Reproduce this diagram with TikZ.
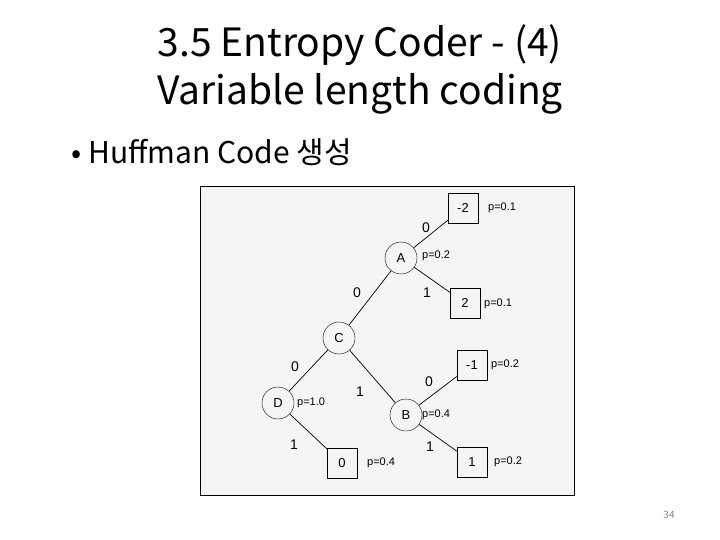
\documentclass[tikz,border=0pt]{standalone}
\usepackage{fontspec}
\setmainfont{Noto Sans CJK KR}
\setsansfont{Liberation Sans}
\begin{document}
\begin{tikzpicture}[x=1pt,y=-1pt,
  circ/.style={draw,circle,minimum size=32pt,inner sep=0pt,font=\sffamily\fontsize{13}{13}\selectfont},
  sq/.style={draw,rectangle,minimum size=30pt,inner sep=0pt,font=\sffamily\fontsize{13}{13}\selectfont},
  lab/.style={font=\sffamily\fontsize{14}{14}\selectfont},
  pl/.style={font=\sffamily\fontsize{11}{11}\selectfont,anchor=west,inner sep=1pt},
  edge/.style={draw,line width=0.7pt}]
\useasboundingbox (0,0) rectangle (720,540);
\node (t1) at (360,45) {\fontsize{39}{39}\selectfont 3.5 Entropy Coder - (4)};
\node (t2) at (360,94) {\fontsize{39}{39}\selectfont Variable length coding};
\node[anchor=west] (bul) at (68,152) {\fontsize{30}{30}\selectfont • Huffman Code 생성};
\node[font=\fontsize{10}{10}\selectfont,text=gray] (pg) at (669,515) {34};
\node[draw,line width=1pt,fill=gray!8,minimum width=374pt,minimum height=308pt,inner sep=0pt] (frame) at (387,341) {};
\node[circ] (D) at (278,403) {D};
\node[circ] (C) at (339,338) {C};
\node[circ] (A) at (401,258) {A};
\node[circ] (B) at (406,415) {B};
\node[sq] (m2) at (463,208) {-2};
\node[sq] (p2) at (465,303) {2};
\node[sq] (m1) at (472,365) {-1};
\node[sq] (p1) at (472,462) {1};
\node[sq] (z) at (342,463) {0};
\draw[edge] (D) -- (C);
\draw[edge] (D) -- (z);
\draw[edge] (C) -- (A);
\draw[edge] (C) -- (B);
\draw[edge] (A) -- (m2);
\draw[edge] (A) -- (p2);
\draw[edge] (B) -- (m1);
\draw[edge] (B) -- (p1);
\node[lab] (e1) at (426,228) {0};
\node[lab] (e2) at (427,293) {1};
\node[lab] (e3) at (357,293) {0};
\node[lab] (e4) at (295,367) {0};
\node[lab] (e5) at (360,392) {1};
\node[lab] (e6) at (294,445) {1};
\node[lab] (e7) at (429,382) {0};
\node[lab] (e8) at (430,447) {1};
\node[pl] (q1) at (487,208) {p=0.1};
\node[pl] (q2) at (421,256) {p=0.2};
\node[pl] (q3) at (483,304) {p=0.1};
\node[pl] (q4) at (490,365) {p=0.2};
\node[pl] (q5) at (296,403) {p=1.0};
\node[pl] (q6) at (421,415) {p=0.4};
\node[pl] (q7) at (366,463) {p=0.4};
\node[pl] (q8) at (493,462) {p=0.2};
\end{tikzpicture}
\end{document}
